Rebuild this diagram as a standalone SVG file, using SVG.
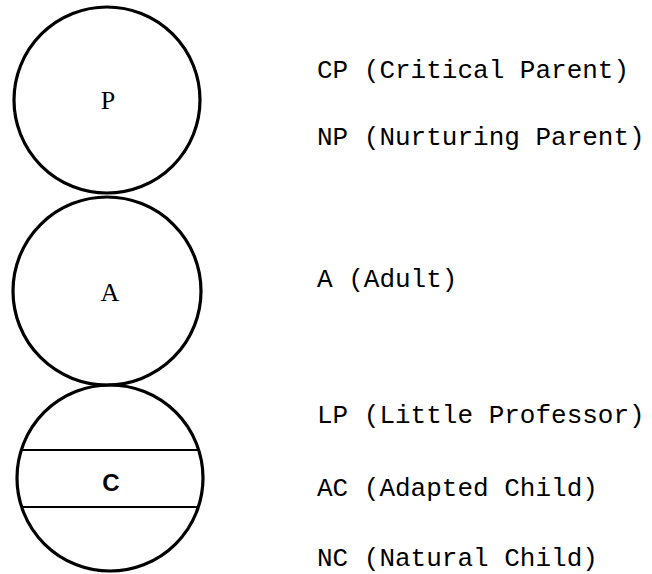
<svg xmlns="http://www.w3.org/2000/svg" width="652" height="574" viewBox="0 0 652 574">
<style>
.c{fill:none;stroke:#000;stroke-width:3.2}
.d{stroke:#000;stroke-width:2}
.t{font-family:"Liberation Mono","DejaVu Sans Mono",monospace;font-size:26px;fill:#000}
.l{font-family:"Liberation Serif","Times New Roman",serif;font-size:26px;fill:#000;text-anchor:middle}
.b{font-family:"Liberation Sans",Arial,sans-serif;font-size:24px;font-weight:bold;fill:#000;text-anchor:middle}
</style>
<rect width="652" height="574" fill="#fff"/>
<g id="parent">
<circle class="c" cx="107" cy="100" r="93"/>
<text class="l" x="108" y="109">P</text>
</g>
<g id="adult">
<circle class="c" cx="107" cy="291" r="94"/>
<text class="l" x="110" y="301">A</text>
</g>
<g id="child">
<circle class="c" cx="110" cy="478" r="93"/>
<line class="d" x1="21" y1="450" x2="199" y2="450"/>
<line class="d" x1="21" y1="507" x2="199" y2="507"/>
<text class="b" x="111" y="491">C</text>
</g>
<g id="connectors"></g>
<g id="legend">
<text class="t" x="317" y="78">CP (Critical Parent)</text>
<text class="t" x="317" y="145">NP (Nurturing Parent)</text>
<text class="t" x="317" y="287">A (Adult)</text>
<text class="t" x="317" y="423">LP (Little Professor)</text>
<text class="t" x="317" y="496">AC (Adapted Child)</text>
<text class="t" x="317" y="566">NC (Natural Child)</text>
</g>
</svg>
